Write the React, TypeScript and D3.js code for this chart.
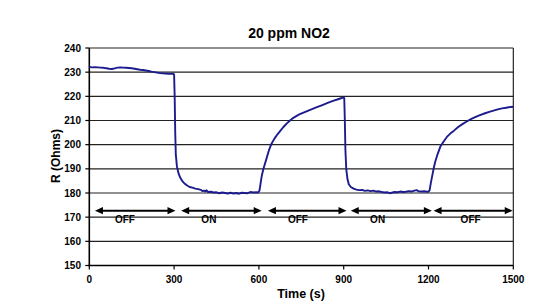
import React from "react";
import * as d3 from "d3";

const title = "20 ppm NO2";
const xTicks = [0, 300, 600, 900, 1200, 1500];
const yTicks = [150, 160, 170, 180, 190, 200, 210, 220, 230, 240];

const timeS = [
  0, 10, 20, 30, 40, 50, 60, 70, 80, 90, 100, 110, 120, 130, 140, 150, 160, 170, 180, 190,
  200, 210, 220, 230, 240, 250, 260, 270, 280, 290, 297, 300, 302, 304, 306, 310, 316, 322, 330, 338,
  345, 355, 365, 375, 385, 395, 400, 405, 410, 415, 420, 430, 440, 450, 460, 470, 480, 490, 500, 510,
  520, 530, 540, 550, 560, 570, 580, 590, 598, 602, 606, 610, 616, 625, 635, 645, 655, 665, 675, 686,
  698, 710, 722, 735, 745, 760, 775, 790, 805, 820, 835, 850, 865, 880, 893, 900, 902, 904, 906, 909,
  913, 918, 925, 935, 945, 955, 965, 975, 985, 995, 1005, 1015, 1025, 1035, 1045, 1055, 1063, 1070, 1080, 1090,
  1100, 1110, 1120, 1130, 1140, 1150, 1158, 1165, 1175, 1185, 1195, 1200, 1204, 1208, 1213, 1218, 1224, 1232, 1242, 1253,
  1265, 1277, 1290, 1305, 1320, 1335, 1350, 1365, 1382, 1400, 1415, 1430, 1445, 1460, 1475, 1490, 1500,
];

const resistanceOhm = [
  232.2, 232.0, 232.1, 232.0, 231.9, 231.8, 231.6, 231.4, 231.3, 231.6, 231.9, 232.0, 231.9, 231.8, 231.7, 231.6, 231.4, 231.2, 231.0, 230.9,
  230.7, 230.5, 230.2, 230.0, 229.8, 229.6, 229.5, 229.4, 229.3, 229.3, 229.4, 229.0, 220.0, 205.0, 196.0, 191.0, 188.0, 186.3, 184.8, 183.8,
  183.2, 182.5, 182.2, 181.8, 181.6, 181.3, 180.8, 181.0, 180.6, 181.1, 180.4, 180.5, 180.2, 180.3, 179.9, 180.2, 180.0, 179.8, 180.1, 179.8,
  180.0, 179.7, 180.1, 180.0, 179.9, 180.4, 180.2, 180.3, 180.2, 181.0, 184.0, 187.0, 190.0, 193.5, 197.5, 200.5, 202.5, 204.2, 205.6, 207.2,
  208.7, 210.0, 211.1, 212.0, 212.6, 213.4, 214.1, 214.8, 215.5, 216.2, 216.9, 217.6, 218.2, 218.8, 219.3, 219.6, 219.2, 210.0, 198.0, 190.0,
  186.0, 183.6, 182.5, 181.8, 181.4, 181.2, 181.3, 180.9, 181.1, 180.8, 181.0, 180.6, 180.7, 180.4, 180.2, 180.3, 179.9, 180.1, 180.4, 180.3,
  180.6, 180.4, 180.5, 180.8, 180.6, 181.0, 181.2, 180.7, 180.6, 180.7, 180.5, 180.5, 181.2, 184.0, 187.0, 190.0, 193.0, 196.0, 199.2, 201.2,
  203.2, 204.6, 205.8, 207.3, 208.5, 209.6, 210.6, 211.4, 212.2, 213.0, 213.6, 214.1, 214.6, 215.0, 215.3, 215.6, 215.7,
];

const phaseLabels = ["OFF", "ON", "OFF", "ON", "OFF"];
const phaseStart = [20, 325, 632, 925, 1218];
const phaseEnd = [305, 610, 910, 1212, 1498];
const phaseLabelAt = [126, 423, 738, 1020, 1349];
const arrowLevel = 172.7;
const labelLevel = 167.5;

export default function App() {
  const x = d3.scaleLinear().domain([0, 1500]).range([89.3, 513.3]);
  const y = d3.scaleLinear().domain([150, 240]).range([265.5, 48]);
  const pts: [number, number][] = timeS.map((t, i) => [t, resistanceOhm[i]]);
  const line = d3
    .line<[number, number]>()
    .x((d) => x(d[0]))
    .y((d) => y(d[1]));
  const font = "'Liberation Sans', Arial, sans-serif";
  const ay = y(arrowLevel);
  const head = 8;
  const hw = 3.6;

  return (
    <svg
      width={543}
      height={308}
      style={{ position: "absolute", left: 0, top: 0, background: "#fff" }}
      fontFamily={font}
    >
      <rect width={543} height={308} fill="#fff" />
      {yTicks.map((v) => (
        <line key={"g" + v} x1={x(0)} x2={x(1500)} y1={y(v)} y2={y(v)} stroke="#222" strokeWidth={1.1} />
      ))}
      <line x1={x(1500)} x2={x(1500)} y1={y(240)} y2={y(150)} stroke="#111" strokeWidth={1.1} />
      <line x1={x(0)} x2={x(0)} y1={y(240)} y2={y(150) + 0.8} stroke="#000" strokeWidth={1.6} />
      <line x1={x(0) - 0.8} x2={x(1500)} y1={y(150)} y2={y(150)} stroke="#000" strokeWidth={1.6} />
      {yTicks.map((v) => (
        <g key={"yt" + v}>
          <line x1={x(0) - 4} x2={x(0)} y1={y(v)} y2={y(v)} stroke="#000" strokeWidth={1.2} />
          <text x={81} y={y(v)} dy="0.36em" textAnchor="end" fontSize={10} fontWeight="bold">
            {v}
          </text>
        </g>
      ))}
      {xTicks.map((v) => (
        <g key={"xt" + v}>
          <line x1={x(v)} x2={x(v)} y1={y(150)} y2={y(150) + 4} stroke="#000" strokeWidth={1.2} />
          <text x={x(v)} y={282.5} textAnchor="middle" fontSize={10} fontWeight="bold">
            {v}
          </text>
        </g>
      ))}
      <path d={line(pts) || ""} fill="none" stroke="#1c1c8e" strokeWidth={1.9} strokeLinejoin="round" />
      {phaseLabels.map((lab, i) => {
        const x1 = x(phaseStart[i]);
        const x2 = x(phaseEnd[i]);
        return (
          <g key={"p" + i}>
            <line x1={x1 + head - 1} x2={x2 - head + 1} y1={ay} y2={ay} stroke="#000" strokeWidth={2} />
            <path d={`M${x1},${ay} L${x1 + head},${ay - hw} L${x1 + head},${ay + hw} Z`} fill="#000" />
            <path d={`M${x2},${ay} L${x2 - head},${ay - hw} L${x2 - head},${ay + hw} Z`} fill="#000" />
            <text x={x(phaseLabelAt[i])} y={y(labelLevel)} textAnchor="middle" fontSize={10} fontWeight="bold">
              {lab}
            </text>
          </g>
        );
      })}
      <text x={289} y={38} textAnchor="middle" fontSize={14} fontWeight="bold">
        {title}
      </text>
      <text x={301} y={298} textAnchor="middle" fontSize={12.5} fontWeight="bold">
        Time (s)
      </text>
      <text
        transform={`translate(60,156) rotate(-90)`}
        textAnchor="middle"
        fontSize={12}
        fontWeight="bold"
      >
        R (Ohms)
      </text>
    </svg>
  );
}
